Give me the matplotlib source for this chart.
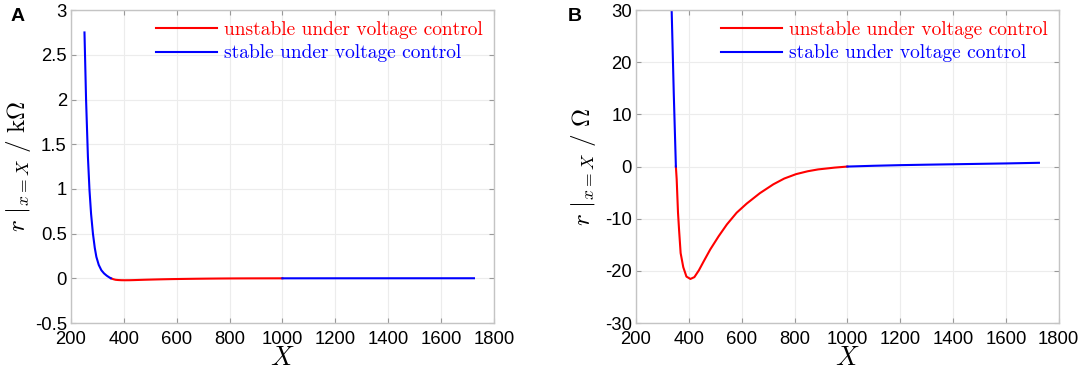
import numpy as np
import matplotlib
matplotlib.use('Agg')
import matplotlib.pyplot as plt

plt.rcParams['mathtext.fontset'] = 'cm'
plt.rcParams['axes.unicode_minus'] = False
plt.rcParams['font.family'] = ['Liberation Sans', 'DejaVu Sans']

# r at x = X, in Ohm
x_stable_lo = [251, 257, 264, 270, 276, 283, 290, 296, 305, 315, 325, 335, 343, 351]
r_stable_lo = [2750, 2000, 1360, 985, 720, 500, 340, 240, 150, 90, 55, 30, 14, 0]

x_unstable = [351, 354, 359, 363, 369, 379, 391, 406, 421, 438, 456, 481, 513,
              544, 581, 619, 669, 720, 761, 806, 850, 889, 952, 1000]
r_unstable = [0, -2.4, -8.8, -12.1, -16.6, -19.3, -21.1, -21.55, -21.2, -19.9,
              -18.2, -15.9, -13.35, -11.1, -8.85, -7.1, -5.1, -3.4, -2.3, -1.45,
              -0.9, -0.55, -0.2, 0]

x_stable_hi = [1000, 1100, 1200, 1300, 1400, 1500, 1600, 1725]
r_stable_hi = [0, 0.15, 0.27, 0.36, 0.44, 0.52, 0.6, 0.72]

x_ticks = [200, 400, 600, 800, 1000, 1200, 1400, 1600, 1800]
yticks_a = [-0.5, 0, 0.5, 1, 1.5, 2, 2.5, 3]
ylabels_a = ['-0.5', '0', '0.5', '1', '1.5', '2', '2.5', '3']
yticks_b = [-30, -20, -10, 0, 10, 20, 30]

RED = (1, 0, 0)
BLUE = (0, 0, 1)
SPINE = '#c4c4c4'


def style_axes(ax, yticks, ylim, ylabel, ytick_labels):
    ax.set_xlim(200, 1800)
    ax.set_ylim(*ylim)
    ax.set_xticks(x_ticks)
    ax.set_xticklabels([str(t) for t in x_ticks])
    ax.set_yticks(yticks)
    ax.set_yticklabels(ytick_labels)
    ax.grid(True, color='#ececec', linewidth=0.8)
    ax.set_axisbelow(True)
    for s in ax.spines.values():
        s.set_color(SPINE)
        s.set_linewidth(1.0)
    ax.tick_params(direction='in', top=True, right=True, length=3.5,
                   color='#999999', labelsize=13.3, labelcolor='black')
    ax.tick_params(axis='x', pad=6)
    ax.tick_params(axis='y', pad=3)
    ax.set_xlabel(r'$X$', fontsize=19)
    ax.xaxis.set_label_coords(0.5, -0.075)
    ax.set_ylabel(ylabel, fontsize=18)
    ax.yaxis.set_label_coords(-0.09, 0.5)
    leg = ax.legend(loc='upper right', frameon=False,
                    prop={'family': 'cmr10', 'size': 14},
                    handlelength=3.1, handletextpad=0.4, labelspacing=0.3,
                    borderaxespad=0.15)
    for txt, line in zip(leg.get_texts(), leg.get_lines()):
        txt.set_color(line.get_color())


fig = plt.figure(figsize=(10.84, 3.77), dpi=100)
ax_a = fig.add_axes([0.0655, 0.1432, 0.390, 0.830])
ax_b = fig.add_axes([0.5867, 0.1432, 0.390, 0.830])

# panel A in kOhm
ax_a.plot(x_unstable, np.array(r_unstable) / 1000, color=RED, lw=1.5,
          label='unstable under voltage control')
ax_a.plot(x_stable_lo, np.array(r_stable_lo) / 1000, color=BLUE, lw=1.5,
          label='stable under voltage control')
ax_a.plot(x_stable_hi, np.array(r_stable_hi) / 1000, color=BLUE, lw=1.5)
style_axes(ax_a, yticks_a, (-0.5, 3),
           r'$r\ |_{x{=}X}\ /\ \mathrm{k}\mathit{\Omega}$', ylabels_a)

# panel B in Ohm
ax_b.plot(x_unstable, r_unstable, color=RED, lw=1.5,
          label='unstable under voltage control')
ax_b.plot(x_stable_lo, r_stable_lo, color=BLUE, lw=1.5,
          label='stable under voltage control')
ax_b.plot(x_stable_hi, r_stable_hi, color=BLUE, lw=1.5)
style_axes(ax_b, yticks_b, (-30, 30),
           r'$r\ |_{x{=}X}\ /\ \mathit{\Omega}$', [str(t) for t in yticks_b])

fig.text(0.010, 0.945, 'A', fontsize=14, fontweight='bold')
fig.text(0.524, 0.945, 'B', fontsize=14, fontweight='bold')

fig.savefig('out.png', dpi=100)
